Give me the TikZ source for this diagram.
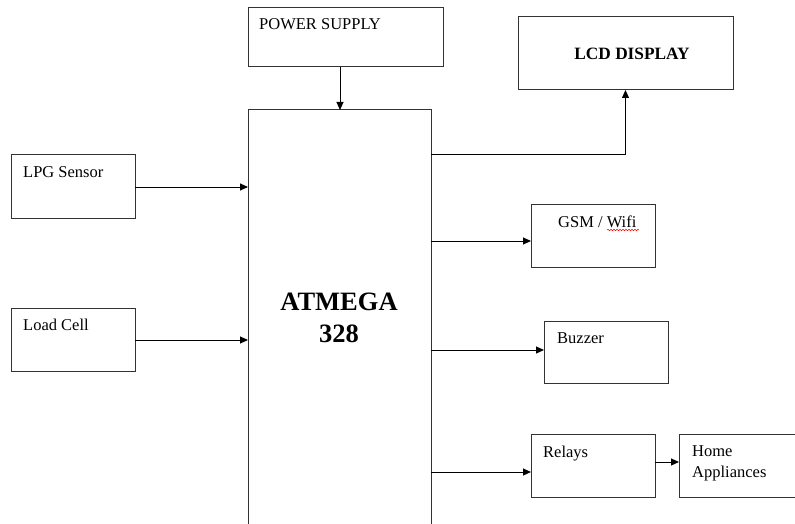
\documentclass[tikz,border=0pt]{standalone}
\usepackage{fontspec}
\setmainfont{Liberation Serif}
\usetikzlibrary{arrows.meta,decorations.pathmorphing}
\begin{document}
\begin{tikzpicture}[x=1pt,y=-1pt,
  blk/.style={draw=black!80,line width=1pt,anchor=north west,inner sep=0pt,outer sep=0pt},
  openblk/.style={anchor=north west,inner sep=0pt,outer sep=0pt},
  lbl/.style={anchor=base west,inner sep=0pt,font=\fontsize{16.5}{18}\selectfont},
  blbl/.style={anchor=base,inner sep=0pt,font=\fontsize{17.3}{19}\selectfont\bfseries},
  arr/.style={draw=black,line width=1pt,-{Triangle[length=8pt,width=7pt]}}]
\useasboundingbox (0,0) rectangle (795,524);
% boxes
\node[blk,minimum width=195pt,minimum height=59pt] (ps) at (248,8) {};
\node[blk,minimum width=215pt,minimum height=73pt] (lcd) at (518,17) {};
\node[blk,minimum width=124pt,minimum height=63pt] (lpg) at (11,155) {};
\node[blk,minimum width=124pt,minimum height=63pt] (load) at (11,308) {};
\node[openblk,minimum width=183pt,minimum height=420pt] (mcu) at (248,110) {};
\draw[draw=black!80,line width=1pt] (mcu.south west) -- (mcu.north west) -- (mcu.north east) -- (mcu.south east);
\node[blk,minimum width=124pt,minimum height=63pt] (gsm) at (531,204) {};
\node[blk,minimum width=124pt,minimum height=62pt] (buz) at (544,321) {};
\node[blk,minimum width=124pt,minimum height=63pt] (rel) at (531,434) {};
\node[openblk,minimum width=130pt,minimum height=63pt] (home) at (679,434) {};
\draw[draw=black!80,line width=1pt] (home.north east) -- (home.north west) -- (home.south west) -- (home.south east);
% texts
\node[lbl] (tps) at (259,30) {POWER SUPPLY};
\node[blbl] (tlcd) at (632,60) {LCD DISPLAY};
\node[lbl] (tlpg) at (23,178) {LPG Sensor};
\node[lbl] (tload) at (23,330) {Load Cell};
\node[lbl] (tgsm) at (558,227) {GSM / Wifi};
\node[lbl] (tbuz) at (557,343) {Buzzer};
\node[lbl] (trel) at (543,457) {Relays};
\node[lbl] (thome1) at (692,456) {Home};
\node[lbl] (thome2) at (692,477) {Appliances};
\node[anchor=base,inner sep=0pt,font=\fontsize{26.5}{28}\selectfont\bfseries] (tmcu1) at (339,310) {ATMEGA};
\node[anchor=base,inner sep=0pt,font=\fontsize{26.5}{28}\selectfont\bfseries] (tmcu2) at (339,342) {328};
% spell-check underline
\coordinate (w1) at (607,230);
\coordinate (w2) at (639,230);
\draw[red,line width=0.5pt,decorate,decoration={snake,amplitude=0.8pt,segment length=3pt}] (w1) -- (w2);
% connectors
\draw[arr] ([xshift=-5.5pt]ps.south) -- ([xshift=-5.5pt]ps.south |- mcu.north);
\draw[arr] (lpg.east |- 0,187) -- (mcu.west |- 0,187);
\draw[arr] (load.east |- 0,340) -- (mcu.west |- 0,340);
\draw[arr] (mcu.east |- 0,155) -| (lcd.south);
\draw[arr] (mcu.east |- 0,241) -- (gsm.west |- 0,241);
\draw[arr] (mcu.east |- 0,350) -- (buz.west |- 0,350);
\draw[arr] (mcu.east |- 0,472) -- (rel.west |- 0,472);
\draw[arr] (rel.east |- 0,462) -- (home.west |- 0,462);
\end{tikzpicture}
\end{document}
